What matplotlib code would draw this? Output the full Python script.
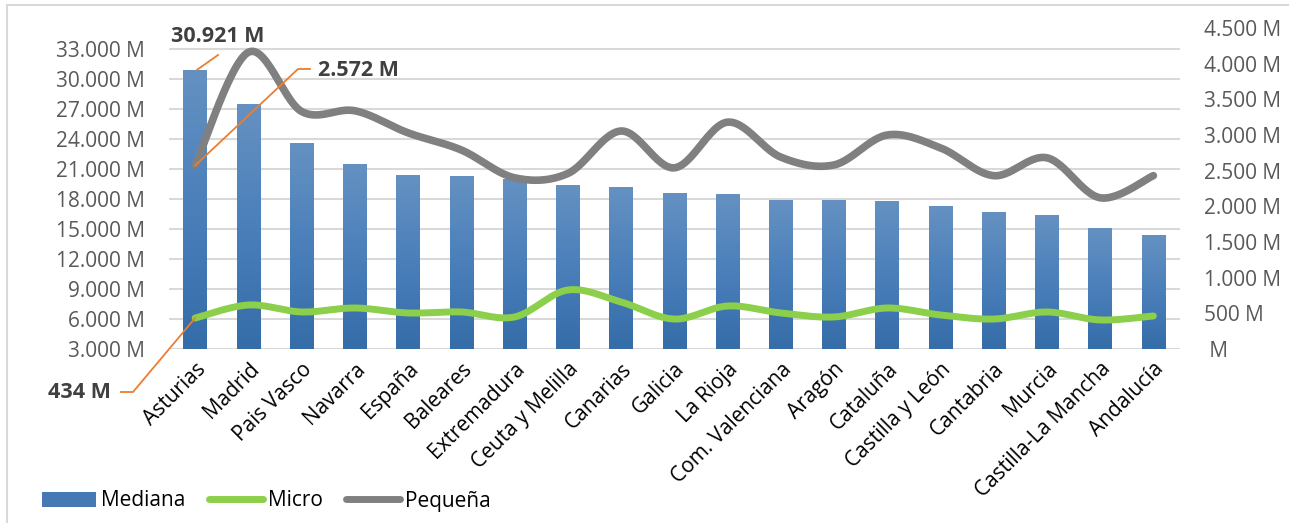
import numpy as np
import matplotlib.pyplot as plt
from matplotlib.lines import Line2D
from matplotlib.patches import Patch, Rectangle
from matplotlib.colors import LinearSegmentedColormap

plt.rcParams['font.family'] = ['Open Sans', 'DejaVu Sans']

regiones = ['Asturias', 'Madrid', 'Pais Vasco', 'Navarra', 'España', 'Baleares',
            'Extremadura', 'Ceuta y Melilla', 'Canarias', 'Galicia', 'La Rioja',
            'Com. Valenciana', 'Aragón', 'Cataluña', 'Castilla y León', 'Cantabria',
            'Murcia', 'Castilla-La Mancha', 'Andalucía']
mediana = [30921, 27500, 23600, 21500, 20400, 20300, 20000, 19400, 19200, 18600,
           18500, 17900, 17900, 17800, 17300, 16700, 16400, 15100, 14400]
micro = [434, 617, 519, 575, 505, 519, 449, 827, 659, 420,
         603, 505, 449, 575, 477, 420, 519, 407, 463]
pequena = [2572, 4160, 3330, 3340, 3030, 2790, 2400, 2460, 3056, 2540,
           3180, 2690, 2580, 3000, 2820, 2430, 2680, 2120, 2430]

left_ticks = list(range(3000, 33001, 3000))
right_ticks = list(range(0, 4501, 500))


def miles(v):
    if v == 0:
        return ' M'
    return '{:,.0f} M'.format(v).replace(',', '.')


# Excel-like smoothed line (Catmull-Rom between the data points)
def smooth(x, y, n=30):
    x = np.asarray(x, float)
    y = np.asarray(y, float)
    px = np.concatenate([[x[0]], x, [x[-1]]])
    py = np.concatenate([[y[0]], y, [y[-1]]])
    xs, ys = [], []
    t = np.linspace(0, 1, n)
    for i in range(1, len(px) - 2):
        for p, out in ((px, xs), (py, ys)):
            p0, p1, p2, p3 = p[i - 1], p[i], p[i + 1], p[i + 2]
            out.extend(0.5 * ((2 * p1) + (-p0 + p2) * t +
                              (2 * p0 - 5 * p1 + 4 * p2 - p3) * t ** 2 +
                              (-p0 + 3 * p1 - 3 * p2 + p3) * t ** 3))
    return np.array(xs), np.array(ys)


W, H = 1289, 523
fig = plt.figure(figsize=(W / 100, H / 100), dpi=100)
fig.patches.append(Rectangle((7 / W, -0.1), 1.2, 1 - 5 / H + 0.1, transform=fig.transFigure,
                             fill=False, edgecolor='#D9D9D9', linewidth=1.5))

ax = fig.add_axes([168.5 / W, 1 - 349 / H, (1180 - 168.5) / W, (349 - 28) / H])
x = np.arange(len(regiones))
bars = ax.bar(x, np.array(mediana) - 3000, bottom=3000, width=0.44, color='#4679B4', zorder=2)

# vertical gradient inside each bar, like the Excel fill
grad = LinearSegmentedColormap.from_list('g', ['#356DA9', '#4A7FBA', '#6591C2'])
for b in bars:
    x0, y0 = b.get_x(), b.get_y()
    im = ax.imshow(np.linspace(0, 1, 100).reshape(-1, 1), cmap=grad, origin='lower',
                   extent=(x0, x0 + b.get_width(), y0, y0 + b.get_height()),
                   aspect='auto', zorder=2.1)
    im.set_clip_path(b)

ax.set_ylim(3000, 35100)
ax.set_xlim(-0.5, len(regiones) - 0.5)
ax.set_yticks(left_ticks)
ax.set_yticklabels([miles(v) for v in left_ticks])
ax.grid(axis='y', color='#D9D9D9', linewidth=1.5, zorder=0)
ax.set_axisbelow(True)
ax.set_xticks(x)
ax.set_xticklabels(regiones, rotation=45, ha='right', rotation_mode='anchor')
for s in ax.spines.values():
    s.set_visible(False)
ax.tick_params(axis='both', length=0, labelsize=15, colors='#595959')
ax.tick_params(axis='x', pad=7, labelcolor='black')
ax.tick_params(axis='y', pad=17)

ax2 = ax.twinx()
ax2.set_ylim(0, 4500)
ax2.set_yticks(right_ticks)
ax2.set_yticklabels([miles(v) for v in right_ticks], ha='left')
for s in ax2.spines.values():
    s.set_visible(False)
ax2.tick_params(axis='y', length=0, labelsize=15, colors='#595959', pad=17)

sx, sy = smooth(x, pequena)
ax2.plot(sx, sy, color='#808080', lw=5.5, solid_capstyle='round', zorder=3)
sx, sy = smooth(x, micro)
ax2.plot(sx, sy, color='#8CCF4A', lw=5, solid_capstyle='round', zorder=3)

# data labels with orange leader lines (pixel coords, origin top-left)
orange = '#ED7D31'


def px(axis, xv, yv):
    a, b = axis.transData.transform((xv, yv))
    return a, H - b


def leader(points):
    xs = [p[0] for p in points]
    ys = [H - p[1] for p in points]
    fig.add_artist(Line2D(xs, ys, transform=None, color=orange, lw=1.3))


p = px(ax, 0, mediana[0])
leader([(p[0] + 2, p[1]), (218, 55)])
fig.text(218 / W, 1 - 36 / H, miles(mediana[0]), ha='center', va='center',
         fontsize=15.5, fontweight='bold', color='#404040')

p = px(ax2, 0, pequena[0])
leader([p, (298, 69), (310, 69)])
fig.text(318 / W, 1 - 71 / H, miles(pequena[0]), ha='left', va='center',
         fontsize=15.5, fontweight='bold', color='#404040')

p = px(ax2, 0, micro[0])
leader([p, (133, 392), (121, 392)])
fig.text(111 / W, 1 - 392 / H, miles(micro[0]), ha='right', va='center',
         fontsize=15.5, fontweight='bold', color='#404040')

handles = [Patch(facecolor='#4679B4'),
           Line2D([], [], color='#8CCF4A', lw=5, solid_capstyle='round'),
           Line2D([], [], color='#808080', lw=5, solid_capstyle='round')]
fig.legend(handles, ['Mediana', 'Micro', 'Pequeña'], loc='center left',
           bbox_to_anchor=(42 / W, 1 - 501 / H), ncol=3, frameon=False,
           fontsize=15, handlelength=2.6, handletextpad=0.25, columnspacing=1.1,
           borderaxespad=0, borderpad=0)

fig.savefig('out.png', dpi=100)
